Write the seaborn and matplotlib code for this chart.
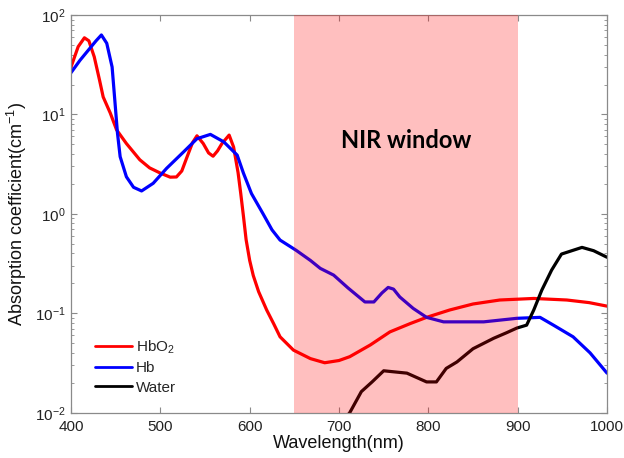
import numpy as np
import pandas as pd
import matplotlib
matplotlib.use("Agg")
import matplotlib.pyplot as plt
from matplotlib.lines import Line2D
import seaborn as sns

# Absorption spectra (cm^-1) versus wavelength (nm)
hbo2_nm = [400, 408, 415, 420, 426, 432, 436, 444, 451, 462, 477, 488, 500, 511,
           518, 524, 530, 536, 541, 548, 554, 559, 564, 569, 577, 582, 587, 590,
           593, 596, 600, 604, 610, 619, 627, 634, 649, 668, 684, 700, 712, 735,
           757, 780, 798, 824, 850, 880, 918, 955, 980, 1000]
hbo2_mua = [30, 48, 59, 55, 38, 22, 15, 10.3, 7.0, 5.1, 3.5, 2.9, 2.57, 2.34,
            2.35, 2.7, 3.76, 5.2, 6.1, 5.1, 4.1, 3.8, 4.3, 5.1, 6.2, 4.7, 2.6, 1.6,
            0.95, 0.55, 0.34, 0.24, 0.165, 0.108, 0.078, 0.058, 0.0426, 0.035, 0.0318,
            0.0335, 0.0366, 0.048, 0.065, 0.079, 0.091, 0.108, 0.124, 0.136, 0.141,
            0.136, 0.128, 0.118]

hb_nm = [400, 410, 420, 428, 434, 440, 446, 449, 452, 455, 462, 470, 479, 492,
         507, 526, 541, 556, 571, 586, 593, 602, 615, 625, 634, 652, 668, 679,
         694, 710, 729, 739, 748, 755, 761, 768, 783, 798, 817, 862, 899, 925,
         940, 962, 981, 1000]
hb_mua = [26.3, 35, 45, 55, 63, 52, 30, 14, 6.5, 3.76, 2.36, 1.85, 1.7, 2.03,
          2.87, 4.2, 5.7, 6.3, 5.3, 3.9, 2.57, 1.6, 1.0, 0.69, 0.545, 0.43, 0.34,
          0.283, 0.242, 0.18, 0.13, 0.13, 0.16, 0.182, 0.175, 0.146, 0.112, 0.091,
          0.082, 0.082, 0.089, 0.091, 0.076, 0.058, 0.04, 0.025]

water_nm = [700, 712, 725, 737, 750, 776, 798, 809, 820, 832, 850, 873, 888, 899,
            910, 918, 927, 938, 949, 972, 985, 1000]
water_mua = [0.0075, 0.0100, 0.0163, 0.0204, 0.0264, 0.025, 0.0204, 0.0204,
             0.0279, 0.0324, 0.044, 0.056, 0.064, 0.071, 0.076, 0.108, 0.171,
             0.272, 0.394, 0.46, 0.426, 0.366]

series_names = ["HbO$_2$", "Hb", "Water"]
series_colors = ["#ff0000", "#0000ff", "#000000"]

df = pd.concat([
    pd.DataFrame({"nm": hbo2_nm, "mua": hbo2_mua, "species": series_names[0]}),
    pd.DataFrame({"nm": hb_nm, "mua": hb_mua, "species": series_names[1]}),
    pd.DataFrame({"nm": water_nm, "mua": water_mua, "species": series_names[2]}),
], ignore_index=True)

sns.set_theme(style="ticks")
plt.rcParams["font.family"] = ["Liberation Sans", "DejaVu Sans"]
plt.rcParams["mathtext.default"] = "regular"

fig = plt.figure(figsize=(6.24, 4.58), dpi=100)
ax = fig.add_axes([0.1138, 0.0989, 0.859, 0.8683])

sns.lineplot(data=df, x="nm", y="mua", hue="species", hue_order=series_names,
             palette=dict(zip(series_names, series_colors)), linewidth=2.3,
             estimator=None, sort=False, legend=False, ax=ax)
for ln in ax.get_lines():
    ln.set_solid_joinstyle("round")
    ln.set_solid_capstyle("round")

# translucent band over the near-infrared window
ax.axvspan(650, 900, color="#ff0000", alpha=0.25, lw=0, zorder=5)
ax.text(775, 5.5, "NIR window", ha="center", va="center", fontsize=17,
        fontweight="bold", color="black", family=["Lato", "DejaVu Sans"], zorder=6)

ax.set_yscale("log")
ax.set_xlim(400, 1000)
ax.set_ylim(1e-2, 1e2)
ax.set_xticks([400, 500, 600, 700, 800, 900, 1000])

ax.set_xlabel("Wavelength(nm)", fontsize=13, color="#111111", labelpad=1)
ax.set_ylabel("Absorption coefficient(cm$^{-1}$)", fontsize=13, color="#111111",
              labelpad=4)

for sp in ax.spines.values():
    sp.set_visible(True)
    sp.set_color("#8a8a8a")
    sp.set_linewidth(0.9)
ax.tick_params(which="both", direction="in", top=True, right=True,
               color="#8a8a8a", labelsize=11, labelcolor="#222222")
ax.tick_params(which="major", length=4, width=0.8)
ax.tick_params(which="minor", length=2.5, width=0.6)
ax.tick_params(axis="x", pad=5)
ax.tick_params(axis="y", pad=4)

handles = [Line2D([], [], color=c, lw=2) for c in series_colors]
ax.legend(handles, series_names, loc="lower left", bbox_to_anchor=(0.045, 0.045),
          frameon=False, fontsize=11, handlelength=2.4, handletextpad=0.25,
          labelspacing=0.35, borderpad=0, borderaxespad=0)

fig.savefig("out.png", dpi=100)
